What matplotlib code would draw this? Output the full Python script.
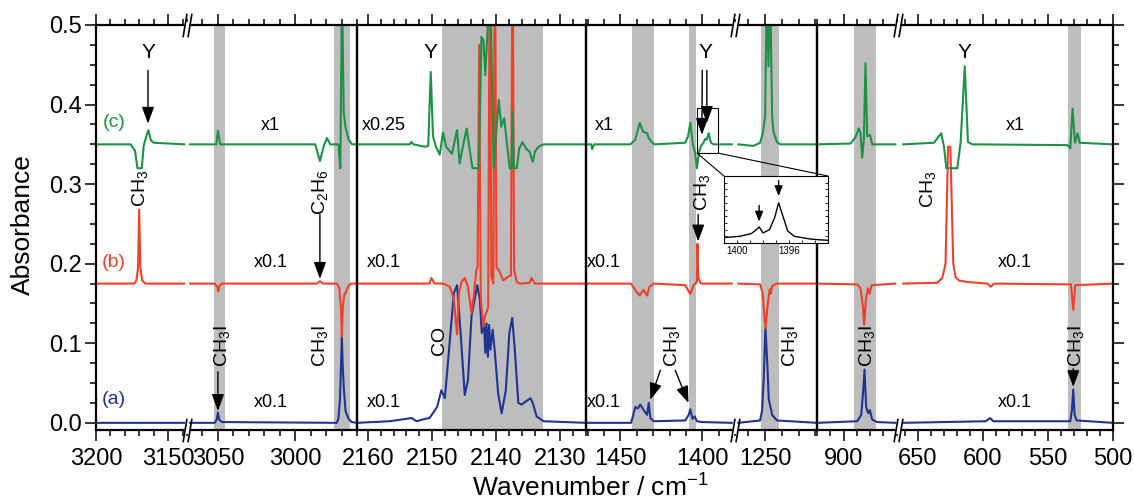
import numpy as np
import matplotlib
matplotlib.use("Agg")
import matplotlib.pyplot as plt
from matplotlib.ticker import MultipleLocator, FormatStrFormatter
from matplotlib.patches import ConnectionPatch, Rectangle
from matplotlib.path import Path

plt.rcParams['font.family'] = ['Liberation Sans', 'DejaVu Sans']
plt.rcParams['mathtext.fontset'] = 'custom'
plt.rcParams['mathtext.rm'] = 'Liberation Sans'
plt.rcParams['mathtext.it'] = 'Liberation Sans:italic'
plt.rcParams['mathtext.bf'] = 'Liberation Sans:bold'

nan = np.nan
BRK = (nan, nan)

# the seven axis pieces (cm-1, left -> right) and their widths in pixels
seg_limits = [(3200, 3137), (3070, 2960), (2161.7, 2126), (1471, 1380),
              (1268, 1219), (920, 859), (665, 500)]
seg_px = [91, 170, 229, 149, 82, 81, 215]
seg_major = [50, 50, 10, 50, 50, 50, 50]
seg_minor = [10, 10, 2, 10, 10, 10, 10]
new_panel = [True, False, True, True, False, True, False]

gray_bands = [(3052.5, 3045.5), (2974.7, 2964.7), (2148.5, 2132.7),
              (1442.9, 1429.3), (1408.3, 1403.7), (1252.4, 1242.0),
              (892.2, 875.9), (534.9, 524.6)]

# baselines of the three stacked traces
offset_a, offset_b, offset_c = 0.0, 0.175, 0.35

# (a) blue, (wavenumber, absorbance above baseline)
trace_a = [
    (3200, 0), (3139, 0), BRK,
    (3068, 0), (3052, 0), (3050.8, 0.004), (3050, 0.013), (3049.2, 0.004), (3047.5, 0.001),
    (2973, 0), (2972, 0.006), (2971, 0.03), (2970.4, 0.07), (2969.8, 0.108), (2969.2, 0.07),
    (2968.6, 0.045), (2967.4, 0.015), (2965.5, 0.005), (2963.5, 0.001), (2960, 0), BRK,
    (2161.7, 0), (2156.6, 0.002), (2153.2, 0.006), (2152.4, 0.002), (2151.1, 0.005),
    (2150.4, 0.006), (2149.2, 0.02), (2148.55, 0.041), (2148.0, 0.031), (2147.35, 0.092),
    (2146.6, 0.163), (2146.1, 0.173), (2145.55, 0.113), (2144.9, 0.035), (2144.4, 0.054),
    (2143.85, 0.134), (2142.95, 0.173), (2142.55, 0.155), (2142.25, 0.113), (2141.9, 0.125),
    (2141.7, 0.088), (2141.5, 0.125), (2141.3, 0.083), (2141.1, 0.123), (2140.9, 0.092),
    (2140.55, 0.117), (2140.2, 0.088), (2139.7, 0.037), (2139.15, 0.012), (2138.5, 0.041),
    (2137.95, 0.113), (2137.5, 0.132), (2137.1, 0.092), (2136.55, 0.025), (2136.05, 0.023),
    (2135.0, 0.029), (2134.65, 0.031), (2134.3, 0.025), (2133.7, 0.008), (2132.6, 0.002),
    (2126, 0), BRK,
    (1471, 0), (1443.5, 0), (1442.9, 0.004), (1440.9, 0.02), (1439.4, 0.018), (1437.8, 0.023),
    (1435.8, 0.016), (1433.7, 0.01), (1432.7, 0.025), (1431.7, 0.006), (1429.7, 0.002),
    (1410.4, 0.003), (1408.3, 0.01), (1407.3, 0.017), (1405.9, 0.005), (1404.5, 0.008),
    (1403.3, 0.002), (1400.2, 0.001), (1382, 0), BRK,
    (1266, 0), (1253, 0.003), (1251.8, 0.016), (1250.8, 0.058), (1249.8, 0.119),
    (1248.8, 0.079), (1247.8, 0.029), (1246.8, 0.02), (1245.8, 0.01), (1243, 0.003),
    (1219, 0), BRK,
    (920, 0), (889.7, 0.002), (886.7, 0.01), (885.2, 0.041), (884.2, 0.067), (883, 0.02),
    (881.4, 0.012), (880.2, 0.016), (878.4, 0.004), (874.7, 0.001), (861, 0), BRK,
    (661, 0), (597.7, 0.002), (594.4, 0.006), (591.8, 0.002), (532.8, 0.002),
    (531.5, 0.016), (530.5, 0.042), (529.5, 0.01), (527.9, 0.003), (500, 0),
]

# (b) red
trace_b = [
    (3200, 0), (3173.5, 0), (3172, 0.004), (3170.9, 0.02), (3170.1, 0.093), (3169.3, 0.02),
    (3168, 0.004), (3166, 0), (3139, 0), BRK,
    (3068, 0), (3052, 0), (3050.5, -0.004), (3049.8, -0.01), (3049, -0.003), (3047.5, 0),
    (2986, 0), (2984, 0.003), (2982, 0), (2973, 0), (2971.5, -0.005), (2970.4, -0.03),
    (2969.8, -0.067), (2969.2, -0.03), (2968.2, -0.014), (2967, -0.01), (2965.5, -0.003),
    (2964, 0), (2960, 0), BRK,
    (2161.7, 0), (2150.4, 0), (2150.1, 0.007), (2149.6, 0), (2148.3, 0), (2147.2, -0.004),
    (2146.6, -0.02), (2146.1, -0.064), (2145.8, -0.012), (2145.4, 0.002), (2144.9, 0.007),
    (2144.4, -0.004), (2143.85, -0.037), (2143.5, -0.016), (2143.1, 0.017), (2142.9, 0.02),
    (2142.65, 0.3), (2142.4, -0.02), (2142.0, -0.054), (2141.75, -0.041), (2141.25, -0.03),
    (2141.0, 0.45), (2140.75, 0.009), (2140.45, 0.0), (2140.2, 0.45), (2139.95, 0.02),
    (2139.6, 0.017), (2138.9, 0.004), (2138.1, 0.009), (2137.7, 0.01), (2137.45, 0.45),
    (2137.2, 0.017), (2136.8, 0.002), (2136.3, 0), (2134.8, 0.001), (2134.5, 0.007),
    (2133.95, 0), (2126, 0), BRK,
    (1471, 0), (1443.5, 0), (1442.9, -0.002), (1440.9, -0.008), (1438.4, -0.015),
    (1435.8, -0.008), (1433.7, -0.015), (1432.3, -0.004), (1429.7, 0), (1410.4, -0.002),
    (1407.3, -0.013), (1405.3, -0.002), (1403.3, 0.002), (1402.9, 0.05), (1402.4, 0.008),
    (1401.5, 0.002), (1400.8, 0), (1382, 0), BRK,
    (1266, 0), (1253, -0.001), (1251.4, -0.013), (1250.4, -0.042), (1249.7, -0.056),
    (1248.6, -0.029), (1247.6, -0.012), (1247.2, -0.007), (1246.6, -0.013), (1245.8, -0.003),
    (1243, 0), (1219, 0), BRK,
    (920, 0), (889.7, -0.001), (887.2, -0.006), (885.4, -0.029), (884.5, -0.052),
    (883.2, -0.02), (881.7, -0.006), (880.4, -0.013), (878.9, -0.002), (861, 0), BRK,
    (661, 0), (634.9, 0.001), (631, 0.007), (628.5, 0.025), (626.6, 0.172), (624.8, 0.172),
    (622.6, 0.025), (620.8, 0.008), (618.2, 0.004), (611.8, 0.002), (596.4, 0),
    (593.8, -0.004), (591.3, 0), (532.3, -0.001), (530.5, -0.033), (529, -0.002), (500, 0),
]

# (c) green
trace_c = [
    (3200, 0), (3176, 0), (3173, -0.008), (3171.3, -0.03), (3168.3, -0.03), (3167, -0.002),
    (3165.5, 0.008), (3163.7, 0.018), (3162, 0.005), (3160, 0.002), (3139, 0), BRK,
    (3068, 0), (3051, 0), (3050, 0.017), (3048.5, 0), (2987, 0), (2984, -0.021),
    (2981.5, -0.002), (2979.4, 0.008), (2977.3, 0), (2972, 0), (2970.8, -0.03), (2969.7, 0.2),
    (2968.6, 0.04), (2967.5, 0.022), (2965.4, 0.006), (2963.2, 0), (2960, 0), BRK,
    (2161.7, 0), (2153.5, 0), (2153.2, 0.003), (2152.9, 0), (2151.1, -0.003), (2150.6, -0.002),
    (2150.2, 0.091), (2149.85, 0.01), (2149.4, -0.003), (2148.8, -0.013), (2148.3, 0.015),
    (2147.8, -0.003), (2146.9, -0.012), (2146.1, 0.018), (2145.7, -0.024), (2145.2, -0.003),
    (2144.6, 0.02), (2144.2, -0.003), (2143.7, -0.03), (2142.7, -0.03), (2142.3, 0.135),
    (2142.0, 0.131), (2141.7, 0.087), (2141.35, 0.144), (2141.1, 0.2), (2140.9, 0.2),
    (2140.6, 0.056), (2140.4, -0.03), (2140.1, 0.005), (2139.6, 0.056), (2139.2, 0.022),
    (2138.75, 0.033), (2138.3, 0), (2137.9, -0.03), (2137.6, -0.03), (2137.45, 0.041),
    (2137.25, -0.03), (2136.8, -0.03), (2136.4, -0.005), (2135.9, 0.003), (2135.3, -0.006),
    (2134.8, -0.009), (2134.3, -0.022), (2133.95, -0.009), (2133.4, -0.003), (2132.6, 0),
    (2126, 0), BRK,
    (1471, 0), (1467.8, 0), (1467.3, -0.006), (1466, 0), (1443.9, 0), (1440.9, 0.006),
    (1438.2, 0.027), (1436.2, 0.016), (1433.7, 0.014), (1432.7, 0.008), (1431.3, 0.004),
    (1429.3, 0), (1410.4, 0.002), (1408.7, 0.01), (1407.3, 0.027), (1405.7, 0),
    (1404.3, -0.011), (1403.3, -0.03), (1402.0, -0.01), (1400.8, -0.002), (1399.2, 0.002),
    (1398.2, 0.007), (1397.2, 0.006), (1396.1, 0.014), (1394.7, 0.002), (1393.1, 0),
    (1382, 0), BRK,
    (1266, 0), (1257, -0.002), (1253, 0.002), (1251.4, 0.014), (1250.0, 0.035), (1249.0, 0.2),
    (1248.0, 0.098), (1247.0, 0.2), (1245.8, 0.035), (1245.0, 0.016), (1243.0, 0.003),
    (1241, 0), (1219, 0), BRK,
    (920, 0), (894.7, 0.001), (891.0, 0.009), (888.5, 0.02), (887.2, 0.014), (886.0, -0.017),
    (884.7, 0.006), (883.5, 0.102), (882.2, 0.01), (880.2, 0.012), (878.4, 0), (861, 0), BRK,
    (661, 0), (637.4, 0.002), (633.6, 0.01), (631.8, 0.014), (629.7, -0.003), (627.9, -0.03),
    (619.5, -0.03), (616.9, 0.003), (613.8, 0.098), (611.3, 0.003), (607.9, 0),
    (534.9, -0.001), (532.8, -0.005), (531.0, 0.045), (529.2, 0.002), (527.2, 0.014),
    (525.6, 0.002), (500, 0),
]

# magnified region around 1400 cm-1 of trace (c)
inset_wn = [1401, 1399.8, 1398.9, 1398.5, 1398.3, 1398.0, 1397.5, 1397.1, 1396.8,
            1396.5, 1396.1, 1395.6, 1395.0, 1394.4, 1393.8, 1393.0]
inset_int = [0.08, 0.1, 0.14, 0.2, 0.24, 0.15, 0.2, 0.38, 0.6, 0.42, 0.18, 0.1,
             0.08, 0.06, 0.05, 0.04]

blue, red, green = '#1f3591', '#f0402a', '#1d9247'
band_color = '#bdbdbd'

W, H = 1135, 504
fig = plt.figure(figsize=(W / 100, H / 100), dpi=100)

axes = []
xpx = 96
for i, (lim, w) in enumerate(zip(seg_limits, seg_px)):
    ax = fig.add_axes([xpx / W, 1 - 430 / H, w / W, 405 / H])
    ax.patch.set_alpha(0)
    xpx += w
    axes.append(ax)
    ax.set_xlim(*lim)
    ax.set_ylim(-0.009, 0.5)
    for b0, b1 in gray_bands:
        ax.axvspan(b0, b1, color=band_color, lw=0, zorder=0)
    for pts, off, col in [(trace_a, offset_a, blue), (trace_b, offset_b, red),
                          (trace_c, offset_c, green)]:
        arr = np.array(pts, dtype=float)
        ax.plot(arr[:, 0], arr[:, 1] + off, color=col, lw=1.5, zorder=2)
    ax.xaxis.set_major_locator(MultipleLocator(seg_major[i]))
    ax.xaxis.set_minor_locator(MultipleLocator(seg_minor[i]))
    ax.yaxis.set_major_locator(MultipleLocator(0.1))
    ax.yaxis.set_minor_locator(MultipleLocator(0.025))
    ax.yaxis.set_major_formatter(FormatStrFormatter('%.1f'))
    last = i == len(seg_limits) - 1
    ax.tick_params(which='both', direction='out', top=True, bottom=True,
                   left=(i == 0), right=last, labelleft=(i == 0), labelright=False,
                   width=1.1, labelsize=17)
    ax.tick_params(which='major', length=8)
    ax.tick_params(which='minor', length=4.5)
    ax.tick_params(axis='x', pad=5)
    ax.tick_params(axis='y', pad=2)
    for s in ax.spines.values():
        s.set_linewidth(1.6)
    ax.spines['left'].set_visible(new_panel[i])
    ax.spines['right'].set_visible(last or new_panel[i + 1])

# axis-break marks "//"
slash = Path([(-4.5, -12), (-0.5, 12), (0.5, -12), (4.5, 12)],
             [Path.MOVETO, Path.LINETO, Path.MOVETO, Path.LINETO])
for i, ax in enumerate(axes):
    if new_panel[i]:
        continue
    for yy in (0, 1):
        ax.plot(0, yy, marker='_', ms=4, mew=5, color='white', transform=ax.transAxes,
                clip_on=False, zorder=10)
        ax.plot(0, yy, marker=slash, ms=17, mew=1.2, color='k', transform=ax.transAxes,
                clip_on=False, zorder=11, ls='none')

ax1a, ax1b, ax2, ax3a, ax3b, ax4a, ax4b = axes


def arrow(ax, x0, y0, x1, y1):
    ax.annotate('', xy=(x1, y1), xytext=(x0, y0),
                arrowprops=dict(arrowstyle='-|>,head_length=0.6,head_width=0.22',
                                color='k', lw=1.0, mutation_scale=17,
                                shrinkA=0, shrinkB=0))


def label(ax, x, y, s, size=13, color='k', rot=0):
    ax.text(x, y, s, fontsize=size, color=color, rotation=rot, ha='center', va='center')


# trace labels and scale factors
label(ax1a, 3187.5, 0.378, '(c)', 14, green)
label(ax1a, 3187.5, 0.202, '(b)', 14, red)
label(ax1a, 3187.5, 0.029, '(a)', 14, blue)
for ax, xx, ys in [(ax1b, 3016, ['x1', 'x0.1', 'x0.1']),
                   (ax2, 2157.6, ['x0.25', 'x0.1', 'x0.1']),
                   (ax3a, 1460, ['x1', 'x0.1', 'x0.1']),
                   (ax4b, 575, ['x1', 'x0.1', 'x0.1'])]:
    for yy, s in zip([0.374, 0.201, 0.026], ys):
        label(ax, xx, yy, s)

# panel 1
label(ax1a, 3164, 0.466, 'Y', 15)
arrow(ax1a, 3164, 0.443, 3164, 0.376)
label(ax1a, 3169.5, 0.295, 'CH$_3$', 14, rot=90)
label(ax1b, 2983.8, 0.29, 'C$_2$H$_6$', 14, rot=90)
arrow(ax1b, 2984, 0.262, 2984, 0.181)
label(ax1b, 3047.6, 0.097, 'CH$_3$I', 14, rot=90)
arrow(ax1b, 3050, 0.064, 3050, 0.015)
label(ax1b, 2983.8, 0.097, 'CH$_3$I', 14, rot=90)

# panel 2
label(ax2, 2150.3, 0.466, 'Y', 15)
label(ax2, 2148.8, 0.104, 'CO', 14, rot=90)

# panel 3
label(ax3a, 1398.2, 0.466, 'Y', 15)
arrow(ax3a, 1400.0, 0.443, 1400.2, 0.362)
arrow(ax3a, 1397.2, 0.443, 1397.2, 0.377)
label(ax3a, 1400.0, 0.29, 'CH$_3$', 14, rot=90)
arrow(ax3a, 1402.5, 0.262, 1402.5, 0.228)
label(ax3a, 1418.3, 0.097, 'CH$_3$I', 14, rot=90)
arrow(ax3a, 1425.6, 0.066, 1431.7, 0.029)
arrow(ax3a, 1416.5, 0.066, 1408.4, 0.025)
label(ax3b, 1235, 0.097, 'CH$_3$I', 14, rot=90)

# panel 4
label(ax4a, 882.7, 0.097, 'CH$_3$I', 14, rot=90)
label(ax4b, 642.3, 0.293, 'CH$_3$', 14, rot=90)
label(ax4b, 613.8, 0.466, 'Y', 15)
label(ax4b, 528.5, 0.097, 'CH$_3$I', 14, rot=90)
arrow(ax4b, 530.5, 0.068, 530.5, 0.045)

# inset with magnified 1400 cm-1 region
rect = Rectangle((1403.2, 0.339), -12.8, 0.057, fill=False, ec='k', lw=0.8, zorder=5)
ax3a.add_patch(rect)
axin = fig.add_axes([724 / W, 1 - 243 / H, 104 / W, 67 / H])
axin.plot(inset_wn, inset_int, color='k', lw=1.0)
axin.set_xlim(1401, 1393)
axin.set_ylim(0, 1)
axin.set_xticks([1400, 1396])
axin.xaxis.set_minor_locator(MultipleLocator(1))
axin.yaxis.set_minor_locator(MultipleLocator(0.1))
axin.set_yticks([])
axin.tick_params(which='both', direction='in', length=2, width=0.6, labelsize=7,
                 pad=2, top=False, right=True, left=True)
for s in axin.spines.values():
    s.set_linewidth(0.8)
axin.annotate('', xy=(1398.3, 0.32), xytext=(1398.3, 0.56),
              arrowprops=dict(arrowstyle='-|>,head_length=0.5,head_width=0.2',
                              color='k', lw=1.0, mutation_scale=12, shrinkA=0, shrinkB=0))
axin.annotate('', xy=(1396.8, 0.7), xytext=(1396.8, 0.93),
              arrowprops=dict(arrowstyle='-|>,head_length=0.5,head_width=0.2',
                              color='k', lw=1.0, mutation_scale=12, shrinkA=0, shrinkB=0))
for xa, xb in [((1403.2, 0.339), (0, 1)), ((1390.4, 0.339), (1, 1))]:
    con = ConnectionPatch(xyA=xa, coordsA=ax3a.transData, xyB=xb, coordsB=axin.transAxes,
                          color='k', lw=0.8)
    fig.add_artist(con)

fig.text(23 / W, 1 - 225 / H, 'Absorbance', rotation=90, ha='center', va='center', fontsize=19)
fig.text(590 / W, 1 - 497 / H, 'Wavenumber / cm$^{-1}$', ha='center', va='baseline', fontsize=19)

fig.savefig('out.png', dpi=100)
